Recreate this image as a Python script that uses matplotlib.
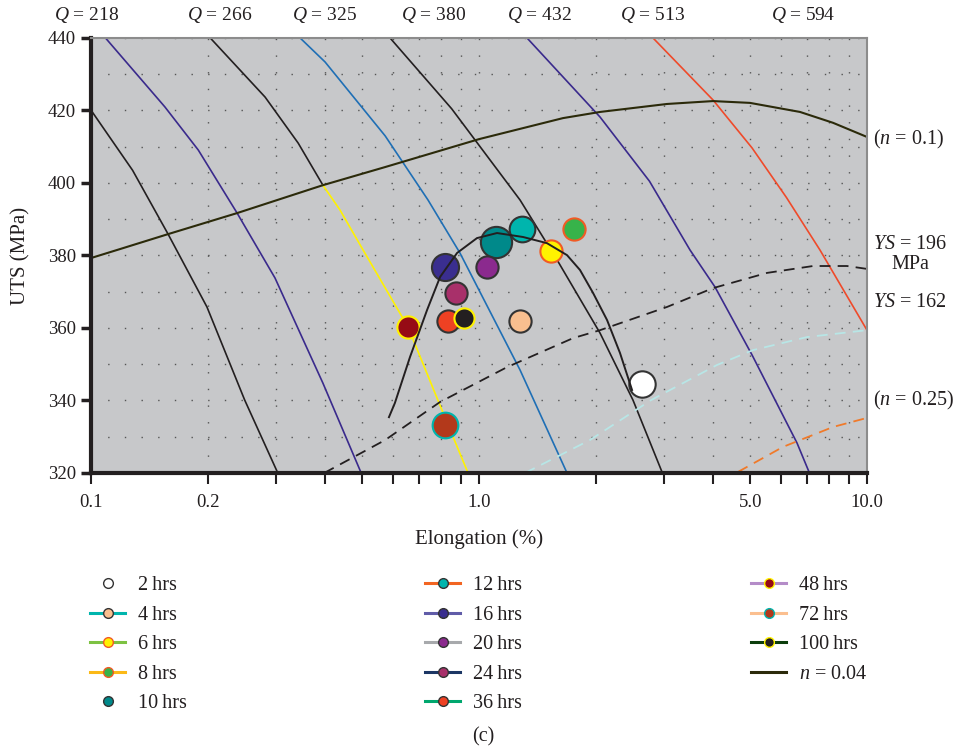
import numpy as np
import matplotlib
matplotlib.use("Agg")
import matplotlib.pyplot as plt
from matplotlib.lines import Line2D

plt.rcParams['font.family'] = ['Liberation Serif', 'DejaVu Serif']
plt.rcParams['mathtext.fontset'] = 'custom'
plt.rcParams['mathtext.rm'] = 'Liberation Serif'
plt.rcParams['mathtext.it'] = 'Liberation Serif:italic'

# ---- iso-quality (Q) lines: (elongation %, UTS MPa)
q1_e = [0.100, 0.128, 0.158, 0.199, 0.249, 0.303]
q1_u = [420.1, 403.5, 385.9, 365.8, 340.1, 320.0]
q2_e = [0.109, 0.155, 0.189, 0.238, 0.298, 0.396, 0.497]
q2_u = [440.0, 421.0, 409.1, 391.7, 373.8, 344.8, 320.0]
q3_e = [0.203, 0.281, 0.342, 0.396]
q3_u = [440.0, 423.7, 411.0, 399.4]
q3y_e = [0.396, 0.438, 0.499, 0.656, 0.808, 0.937]
q3y_u = [399.4, 392.6, 382.1, 360.3, 336.6, 320.0]
q4_e = [0.346, 0.401, 0.573, 0.739, 0.893, 1.276, 1.542, 1.686]
q4_u = [440.0, 433.4, 413.0, 395.3, 380.7, 348.4, 329.1, 320.0]
q5_e = [0.590, 0.85, 1.276, 1.589, 2.051, 2.494, 2.962]
q5_u = [440.0, 420.5, 395.3, 378.8, 358.6, 340.1, 320.3]
q6_e = [1.330, 2.051, 2.75, 3.499, 4.058, 5.053, 6.600, 7.088]
q6_u = [440.0, 418.2, 400.5, 381.5, 371.3, 352.6, 328.3, 320.3]
q7_e = [2.809, 4.010, 5.053, 6.2, 7.566, 10.0]
q7_u = [440.0, 422.9, 409.7, 396.0, 381.5, 359.4]
q_labels = ['218', '266', '325', '380', '432', '513', '594']
q_label_x = [0.0977, 0.215, 0.401, 0.766, 1.436, 2.81, 6.84]

# strain-hardening / yield strength lines
n01_e = [0.100, 0.119, 0.158, 0.238, 0.396, 0.573, 1.0, 1.646, 2.051, 3.051, 4.010, 4.994, 6.72, 8.176, 10.0]
n01_u = [379.3, 381.8, 385.9, 391.7, 399.4, 404.4, 412.1, 417.9, 419.6, 421.8, 422.6, 422.1, 419.6, 416.6, 412.7]
ys196_e = [0.399, 0.573, 0.794, 1.181, 1.747, 2.051, 3.051, 4.010, 5.525, 7.257, 8.883, 10.0]
ys196_u = [320.0, 329.1, 339.6, 349.2, 357.2, 359.4, 365.8, 371.0, 375.2, 377.1, 377.1, 376.3]
ys162_e = [1.314, 1.932, 2.776, 4.106, 5.084, 7.005, 10.0]
ys162_u = [320.0, 329.1, 340.1, 349.8, 353.9, 357.5, 359.4]
n025_e = [4.652, 6.074, 8.176, 10.0]
n025_u = [320.3, 327.2, 332.7, 335.2]
fit_e = [0.586, 0.607, 0.664, 0.735, 0.794, 0.878, 0.988, 1.113, 1.299, 1.497, 1.686, 1.821, 1.967, 2.138, 2.309, 2.480]
fit_u = [335.4, 339.3, 352.0, 365.0, 374.1, 380.7, 384.8, 386.2, 385.1, 383.4, 380.1, 376.0, 369.7, 362.2, 353.1, 342.9]

# ---- aged samples
times = ['2', '4', '6', '8', '10', '12', '16', '20', '24', '36', '48', '72', '100']
elong = [2.627, 1.276, 1.530, 1.757, 1.106, 1.291, 0.816, 1.051, 0.873, 0.833, 0.657, 0.819, 0.915]
uts = [344.6, 362.0, 381.2, 387.2, 383.6, 387.3, 376.7, 376.9, 369.6, 362.0, 360.2, 333.2, 362.8]
face = ['#ffffff', '#f9bf8f', '#fff200', '#37b34a', '#00898a', '#00b5ad', '#3a2e8f',
        '#8b2a8e', '#a8306a', '#ee4123', '#960b15', '#b3391b', '#231f20']
edge = ['#333333', '#333333', '#f15a24', '#f15a24', '#333333', '#333333', '#333333',
        '#333333', '#333333', '#333333', '#fff200', '#00b5ad', '#fff200']
msize = [19, 16, 16, 16, 22.5, 18.5, 19.5, 16, 16, 16, 16, 18.5, 14.5]
leg_line = [None, '#00b5ad', '#7dc242', '#fbb917', None, '#f26522', '#605ca8',
            '#a7a9ac', '#1c3664', '#00a76e', '#b48cc8', '#fbbf8f', '#0b3d0b']

fig = plt.figure(figsize=(9.59, 7.52), dpi=100)
ax = fig.add_axes([91/959, 1-473/752, 776/959, 435/752])
ax.set_facecolor('#c7c8ca')
ax.set_xscale('log')
ax.set_xlim(0.1, 10.0)
ax.set_ylim(320, 440)

blk = '#231f20'
pur = '#3a2a8c'
ax.plot(q1_e, q1_u, color=blk, lw=1.2)
ax.plot(q2_e, q2_u, color=pur, lw=1.2)
ax.plot(q3_e, q3_u, color=blk, lw=1.2)
ax.plot(q3y_e, q3y_u, color='#fff200', lw=1.2)
ax.plot(q4_e, q4_u, color='#1f6fb5', lw=1.2)
ax.plot(q5_e, q5_u, color=blk, lw=1.2)
ax.plot(q6_e, q6_u, color=pur, lw=1.2)
ax.plot(q7_e, q7_u, color='#ef4a2a', lw=1.2)

ax.plot(n01_e, n01_u, color='#2b2a0a', lw=1.5)
ax.plot(ys196_e, ys196_u, color=blk, lw=1.3, dashes=(6, 4))
ax.plot(ys162_e, ys162_u, color='#b8e6e6', lw=1.3, dashes=(6, 4))
ax.plot(n025_e, n025_u, color='#f07a2a', lw=1.3, dashes=(6, 4))

for i in range(len(times)):
    ax.plot(elong[i], uts[i], 'o', ms=msize[i], mfc=face[i], mec=edge[i], mew=1.5, zorder=5)
ax.plot(fit_e, fit_u, color=blk, lw=1.4, zorder=6)

# grid and axes styling
ax.set_yticks([320, 340, 360, 380, 400, 420, 440])
ax.set_yticks([330, 350, 370, 390, 410, 430], minor=True)
ax.set_xticks([0.1, 0.2, 1.0, 5.0, 10.0])
ax.set_xticklabels(['0.1', '0.2', '1.0', '5.0', '10.0'])
minor_x = [0.3, 0.4, 0.5, 0.6, 0.7, 0.8, 0.9, 2, 3, 4, 6, 7, 8, 9]
ax.set_xticks(minor_x, minor=True)
ax.set_xticklabels([], minor=True)
ax.grid(True, which='both', color='#555555', lw=1.0, ls=(0, (1, 11)))
ax.set_axisbelow(True)
ax.tick_params(axis='y', which='major', direction='out', length=7, width=2.5, labelsize=13.5, pad=4, colors=blk)
ax.tick_params(axis='y', which='minor', length=0)
ax.tick_params(axis='x', which='both', direction='out', length=8, width=1.5, labelsize=13.5, pad=7, colors=blk)
for s in ['left', 'bottom']:
    ax.spines[s].set_linewidth(3)
    ax.spines[s].set_color(blk)
for s in ['top', 'right']:
    ax.spines[s].set_linewidth(1.5)
    ax.spines[s].set_color('#8c8c8c')

ax.set_xlabel('Elongation (%)', fontsize=15, labelpad=13, color=blk)
ax.set_ylabel('UTS (MPa)', fontsize=15, labelpad=12, color=blk)

for lab, xq in zip(q_labels, q_label_x):
    ax.text(xq, 1.0525, r'$Q$ = ' + lab, transform=ax.get_xaxis_transform(),
            fontsize=14, ha='center', va='center', color=blk)

tx = 1.0077
yt = ax.get_yaxis_transform()
ax.text(tx, 411.9, r'($n$ = 0.1)', transform=yt, fontsize=14.5, va='center', color=blk)
ax.text(tx, 382.9, r'$YS$ = 196', transform=yt, fontsize=14.5, va='center', color=blk)
ax.text(1.0555, 377.5, 'MPa', transform=yt, fontsize=14.5, va='center', ha='center', color=blk)
ax.text(tx, 367.0, r'$YS$ = 162', transform=yt, fontsize=14.5, va='center', color=blk)
ax.text(tx, 339.9, r'($n$ = 0.25)', transform=yt, fontsize=14.5, va='center', color=blk)

# legend in three columns
handles = []
for i in range(len(times)):
    if leg_line[i] is None:
        h = Line2D([], [], ls='none', marker='o', ms=7, mfc=face[i], mec='#333333', mew=1.0)
    else:
        h = Line2D([], [], color=leg_line[i], lw=2.2, marker='o', ms=7, mfc=face[i], mec=edge[i], mew=1.0)
    handles.append((h, times[i] + '\u2009hrs'))
handles.append((Line2D([], [], color='#2b2a0a', lw=2.2), r'$n$ = 0.04'))

cols = [handles[0:5], handles[5:10], handles[10:14]]
col_x = [90/959, 425/959, 751/959]
for hs, cx in zip(cols, col_x):
    leg = fig.legend([h for h, _ in hs], [t for _, t in hs], loc='upper left',
                     bbox_to_anchor=(cx, 1 - 576/752), frameon=False, fontsize=14.5,
                     handlelength=1.74, handletextpad=0.62, labelspacing=0.52,
                     borderpad=0, borderaxespad=0)
    for t in leg.get_texts():
        t.set_color(blk)

fig.text(483/959, 1 - 737/752, '(c)', fontsize=14.5, ha='center', va='center', color=blk)

fig.savefig('out.png', dpi=100)
